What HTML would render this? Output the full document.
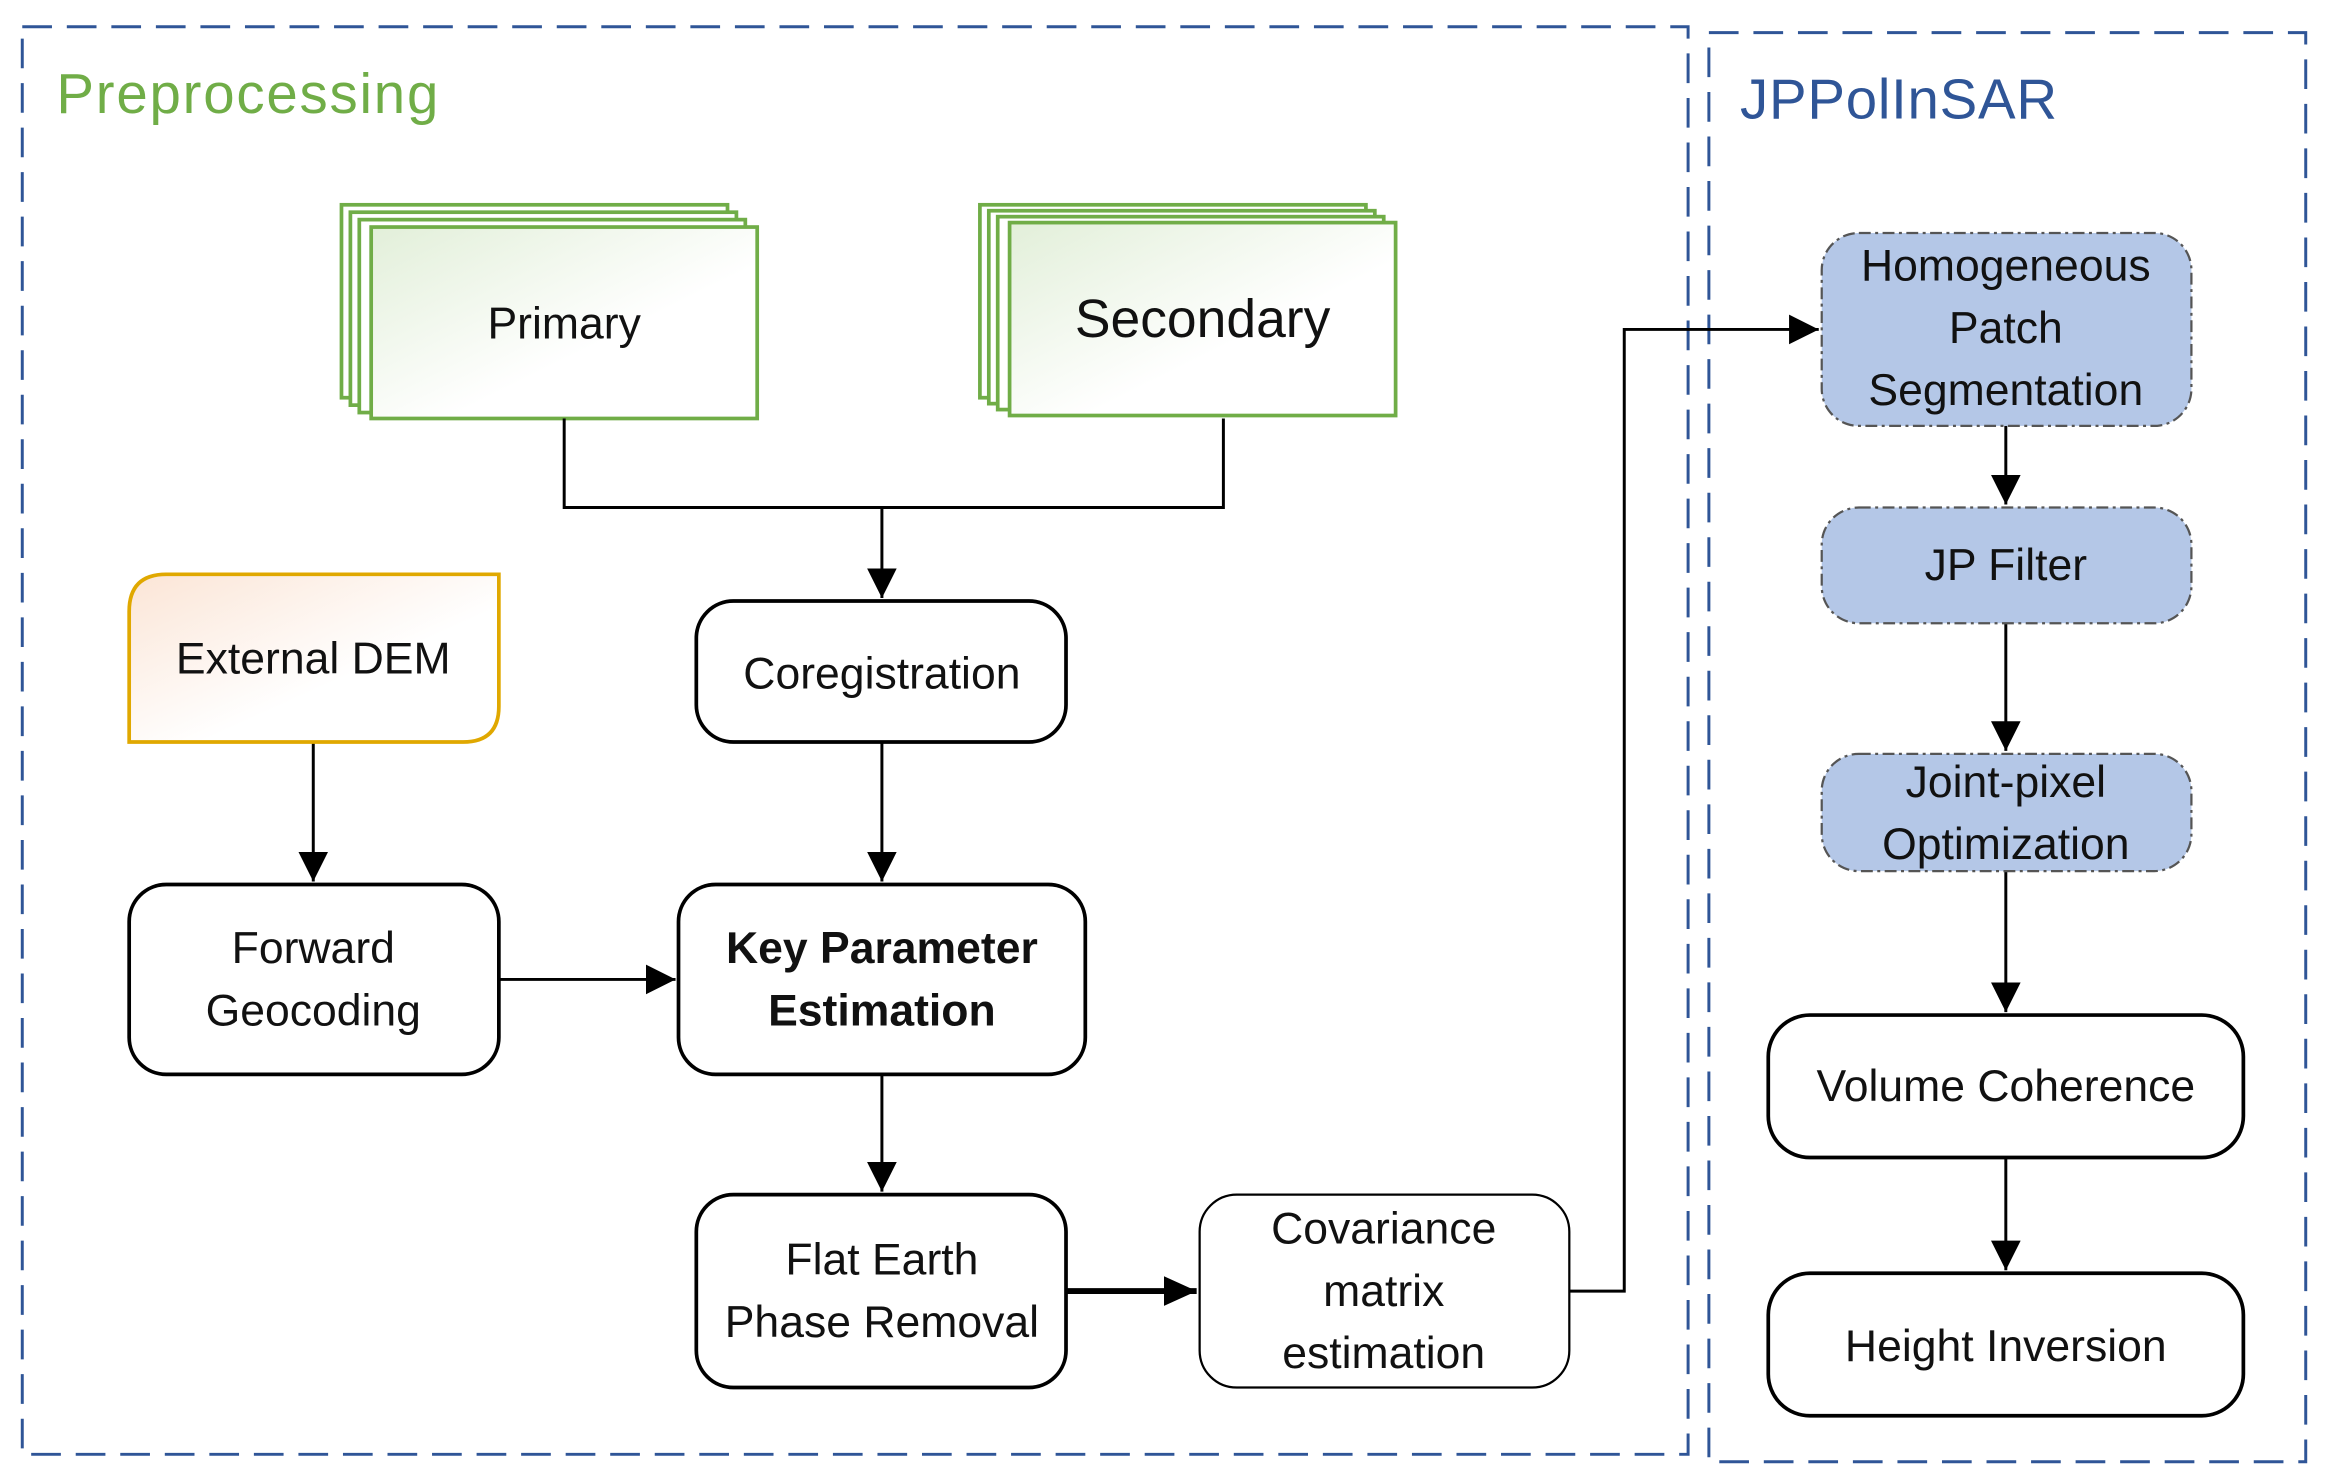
<!DOCTYPE html>
<html><head><meta charset="utf-8"><style>
html,body{margin:0;padding:0;background:#fff;}
svg{display:block;}
text{font-family:"Liberation Sans",sans-serif;fill:#111;}
</style></head><body>
<svg width="2328" height="1484" viewBox="0 0 1568 1000" preserveAspectRatio="none" xmlns="http://www.w3.org/2000/svg">
<defs>
<linearGradient id="gg" x1="0" y1="0" x2="1" y2="1"><stop offset="0" stop-color="#e2efd9"/><stop offset="0.6" stop-color="#fff"/></linearGradient>
<linearGradient id="og" x1="0" y1="0" x2="1" y2="1"><stop offset="0" stop-color="#fbe5d6"/><stop offset="0.6" stop-color="#fff"/></linearGradient>
<marker id="A" markerWidth="22" markerHeight="20" refX="22" refY="10" orient="auto" markerUnits="userSpaceOnUse"><path d="M0,0 L22,10 L0,20z" fill="#000"/></marker>
<marker id="b" markerWidth="20" markerHeight="20" refX="20" refY="10" orient="auto" markerUnits="userSpaceOnUse"><path d="M0,0 L20,10 L0,20z" fill="#000"/></marker>
</defs>
<rect x="15" y="18" width="1122" height="962" fill="none" stroke="#2f5597" stroke-width="2" stroke-dasharray="20,10"/>
<rect x="1151" y="22" width="402" height="963" fill="none" stroke="#2f5597" stroke-width="2" stroke-dasharray="20,10"/>
<text x="38" y="76" font-size="38" letter-spacing="1.2" style="fill:#70ad47">Preprocessing</text>
<text x="1172" y="80" font-size="38" letter-spacing="0.5" style="fill:#2f5597">JPPolInSAR</text>
<g stroke="#70ad47" stroke-width="2.5" fill="#fff">
<rect x="230" y="138" width="260" height="130"/><rect x="236" y="143" width="260" height="130"/><rect x="242" y="148" width="260" height="130"/>
<rect x="250" y="153" width="260" height="129" fill="url(#gg)"/>
<rect x="660" y="138" width="260" height="130"/><rect x="666" y="142" width="260" height="130"/><rect x="672" y="146" width="260" height="130"/>
<rect x="680" y="150" width="260" height="130" fill="url(#gg)"/>
</g>
<text x="380" y="228" font-size="30" text-anchor="middle">Primary</text>
<text x="810" y="227" font-size="36" text-anchor="middle">Secondary</text>
<g fill="none" stroke="#000" stroke-width="2">
<path d="M380,282 V342 H824 V282"/>
<path d="M594,342 V403" marker-end="url(#b)"/>
<path d="M211,500 V594" marker-end="url(#b)"/>
<path d="M594,500 V594" marker-end="url(#b)"/>
<path d="M336,660 H455" marker-end="url(#b)"/>
<path d="M594,724 V803" marker-end="url(#b)"/>
<path d="M718,870 H806" stroke-width="4" marker-end="url(#A)"/>
<path d="M1057,870 H1094 V222 H1225" marker-end="url(#b)"/>
<path d="M1351,287 V340" marker-end="url(#b)"/>
<path d="M1351,420 V506" marker-end="url(#b)"/>
<path d="M1351,587 V682" marker-end="url(#b)"/>
<path d="M1351,780 V856" marker-end="url(#b)"/>
</g>
<path d="M112,387 H336 V476 Q336,500 312,500 H87 V412 Q87,387 112,387z" fill="url(#og)" stroke="#e0a800" stroke-width="2.5"/>
<text x="211" y="454" font-size="30" text-anchor="middle">External DEM</text>
<g fill="#fff" stroke="#000" stroke-width="2.5">
<rect x="469" y="405" width="249" height="95" rx="25"/>
<rect x="87" y="596" width="249" height="128" rx="25"/>
<rect x="457" y="596" width="274" height="128" rx="25"/>
<rect x="469" y="805" width="249" height="130" rx="25"/>
<rect x="808" y="805" width="249" height="130" rx="25" stroke-width="1.5"/>
<rect x="1191" y="684" width="320" height="96" rx="28"/>
<rect x="1191" y="858" width="320" height="96" rx="28"/>
</g>
<g fill="#b4c7e7" stroke="#555" stroke-width="1.5" stroke-dasharray="8,3,2,3">
<rect x="1227" y="157" width="249" height="130" rx="25"/>
<rect x="1227" y="342" width="249" height="78" rx="25"/>
<rect x="1227" y="508" width="249" height="79" rx="25"/>
</g>
<g font-size="30" text-anchor="middle">
<text x="594" y="464">Coregistration</text>
<text x="211" y="649">Forward</text><text x="211" y="691">Geocoding</text>
<text x="594" y="649" font-weight="bold">Key Parameter</text><text x="594" y="691" font-weight="bold">Estimation</text>
<text x="594" y="859">Flat Earth</text><text x="594" y="901">Phase Removal</text>
<text x="932" y="838">Covariance</text><text x="932" y="880">matrix</text><text x="932" y="922">estimation</text>
<text x="1351" y="189">Homogeneous</text><text x="1351" y="231">Patch</text><text x="1351" y="273">Segmentation</text>
<text x="1351" y="391">JP Filter</text>
<text x="1351" y="537">Joint-pixel</text><text x="1351" y="579">Optimization</text>
<text x="1351" y="742">Volume Coherence</text>
<text x="1351" y="917">Height Inversion</text>
</g>
</svg>
</body></html>
